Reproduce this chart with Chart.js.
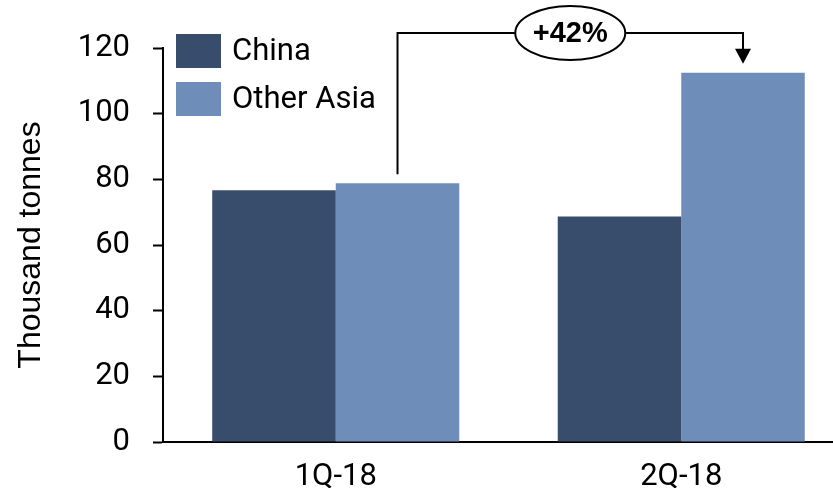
<!DOCTYPE html>
<html>
<head>
<meta charset="utf-8">
<script src="https://cdn.jsdelivr.net/npm/chart.js@4"></script>
<style>
  html, body { margin: 0; padding: 0; background: #fff; overflow: hidden; }
  #wrap { width: 833px; height: 488px; overflow: hidden; }
</style>
</head>
<body>
<div id="wrap"><canvas id="tonnesChart" width="854" height="488"></canvas></div>
<script>
const quarters = ['1Q-18', '2Q-18'];
const chinaVals = [76.7, 68.7];
const otherAsiaVals = [78.8, 112.5];
const yTicks = [0, 20, 40, 60, 80, 100, 120];
const changeLabel = '+42%';

// legend drawn in the top-left of the plot
const boxLegend = {
    id: 'boxLegend',
    afterDraw(chart) {
        const ctx = chart.ctx;
        ctx.save();
        chart.data.datasets.forEach((ds, i) => {
            const y = 34 + i * 48;
            ctx.fillStyle = ds.backgroundColor;
            ctx.fillRect(176, y, 45, 34);
            ctx.fillStyle = '#000';
            ctx.font = '31px Roboto';
            ctx.textBaseline = 'middle';
            ctx.fillText(ds.label, 232, y + 18);
        });
        ctx.restore();
    }
};

// bracket with arrow from 1Q Other Asia to 2Q Other Asia
const growthBracket = {
    id: 'growthBracket',
    afterDraw(chart) {
        const ctx = chart.ctx;
        const bars = chart.getDatasetMeta(1).data;
        const a = bars[0], b = bars[1];
        const topY = 33;
        const gap = 9;
        const midX = (a.x + b.x) / 2;
        ctx.save();
        ctx.strokeStyle = '#000';
        ctx.lineWidth = 2;
        ctx.beginPath();
        ctx.moveTo(a.x, a.y - gap);
        ctx.lineTo(a.x, topY);
        ctx.lineTo(b.x, topY);
        ctx.lineTo(b.x, b.y - gap - 14);
        ctx.stroke();
        // arrow head
        ctx.fillStyle = '#000';
        ctx.beginPath();
        ctx.moveTo(b.x - 8, b.y - gap - 15);
        ctx.lineTo(b.x + 8, b.y - gap - 15);
        ctx.lineTo(b.x, b.y - gap);
        ctx.closePath();
        ctx.fill();
        // ellipse label
        ctx.beginPath();
        ctx.ellipse(midX, topY, 55, 27, 0, 0, Math.PI * 2);
        ctx.fillStyle = '#fff';
        ctx.fill();
        ctx.stroke();
        ctx.fillStyle = '#000';
        ctx.font = 'bold 29px "Liberation Sans"';
        ctx.textAlign = 'center';
        ctx.textBaseline = 'middle';
        ctx.fillText(changeLabel, midX, topY + 1);
        ctx.restore();
    }
};

const ctx = document.getElementById('tonnesChart').getContext('2d');
const tonnesChart = new Chart(ctx, {
    type: 'bar',
    data: {
        labels: quarters,
        datasets: [{
            label: 'China',
            data: chinaVals,
            backgroundColor: '#384c6c',
            categoryPercentage: 0.715,
            barPercentage: 1
        }, {
            label: 'Other Asia',
            data: otherAsiaVals,
            backgroundColor: '#6e8db9',
            categoryPercentage: 0.715,
            barPercentage: 1
        }]
    },
    options: {
        responsive: false,
        animation: false,
        devicePixelRatio: 1,
        layout: {
            padding: { top: 48, right: 0, left: 0, bottom: 0 }
        },
        plugins: {
            legend: { display: false },
            tooltip: { enabled: false }
        },
        scales: {
            x: {
                grid: { display: false },
                border: { color: '#000', width: 2 },
                ticks: {
                    color: '#000',
                    font: { family: 'Roboto', size: 31 },
                    padding: 9
                },
                afterFit(scale) { scale.height = 46; }
            },
            y: {
                min: 0,
                max: 120,
                afterBuildTicks(scale) {
                    scale.ticks = yTicks.map(v => ({ value: v }));
                },
                grid: {
                    drawOnChartArea: false,
                    drawTicks: true,
                    tickLength: 10,
                    tickWidth: 2,
                    tickColor: '#000'
                },
                border: { color: '#000', width: 2 },
                ticks: {
                    color: '#000',
                    font: { family: 'Roboto', size: 31 },
                    padding: 23
                },
                title: {
                    display: true,
                    text: 'Thousand tonnes',
                    color: '#000',
                    font: { family: 'Liberation Sans', size: 32 },
                    padding: { top: 12, bottom: 0 }
                },
                afterFit(scale) { scale.width = 163; }
            }
        }
    },
    plugins: [boxLegend, growthBracket]
});
</script>
</body>
</html>
